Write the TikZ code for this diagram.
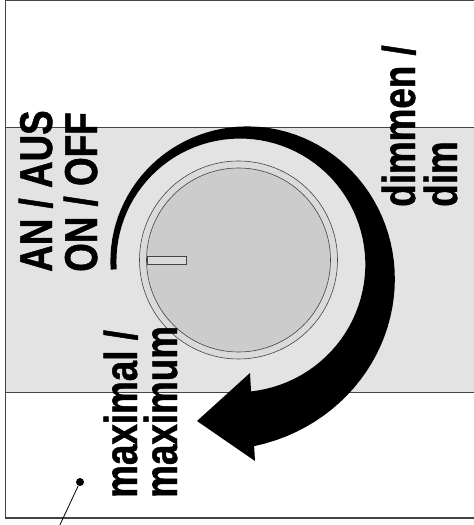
\documentclass[tikz,border=0pt]{standalone}
\usepackage{fontspec}
\setmainfont{Liberation Sans}
\newfontfamily\lblfont{Liberation Sans}[FakeStretch=0.80, FakeBold=1]
\usepackage{xcolor}
\usetikzlibrary{positioning}

\definecolor{panelgray}{HTML}{E3E3E3}
\definecolor{ringgray}{HTML}{DADADA}
\definecolor{facegray}{HTML}{CCCCCC}
\definecolor{edgegray}{HTML}{444444}

\begin{document}
\begin{tikzpicture}[
      x=1pt, y=1pt,
      lbl/.style={rotate=90, anchor=base west, inner sep=0pt,
          font=\lblfont\bfseries\fontsize{46}{50}\selectfont},
      frameline/.style={draw=edgegray, line width=1.2pt},
      knobring/.style={draw=edgegray, circle, fill=ringgray, line width=0.6pt, inner sep=0pt},
      arr/.style={fill=black},
    ]

    \useasboundingbox (0,0) rectangle (474,525);

    % housing and panel
    \fill[white] (0,0) rectangle (474,525);
    \filldraw[fill=panelgray, draw=edgegray, line width=0.8pt] (5.5,133) rectangle (480,398);
    \draw[frameline] (480,524.5) -- (5.5,524.5) -- (5.5,7) -- (480,7);

    % knob
    \node[knobring, minimum size=198pt] (knob) at (238.5,265) {};
    \node[knobring, fill=facegray, minimum size=184pt] (face) at (knob) {};
    \filldraw[fill=ringgray, draw=edgegray, line width=0.5pt] (147,261) rectangle (186,269);

    % turning arrow
    \fill[arr] plot[domain=0:1.02, samples=80, variable=\s]
          ({238.5+(122+7*\s)*cos(183-266*\s)}, {262+(122+7*\s)*sin(183-266*\s)})
      -- plot[domain=1.02:0, samples=80, variable=\s]
          ({238.5+(128+7*\s+48*\s*\s)*cos(183-266*\s)}, {262+(128+7*\s+48*\s*\s)*sin(183-266*\s)})
      -- cycle;
    \fill[arr] (197,104) -- (250,152) -- (255,64) -- cycle;

    % labels
    \node[lbl] (an) at (52,253) {AN / AUS};
    \node[lbl] (on) at (97,253) {ON / OFF};
    \node[lbl] (dimmen) at (415,318) {dimmen /};
    \node[lbl] (dim) at (457,318) {dim};
    \node[lbl] (maximal) at (137,27) {maximal /};
    \node[lbl] (maximum) at (177,27) {maximum};

    % leader
    \node[circle, fill=black, inner sep=0pt, minimum size=8pt] (dot) at (80,43) {};
    \coordinate (leadend) at (58,-4);
    \draw[line width=0.8pt] (dot) -- (leadend);

  \end{tikzpicture}
\end{document}
